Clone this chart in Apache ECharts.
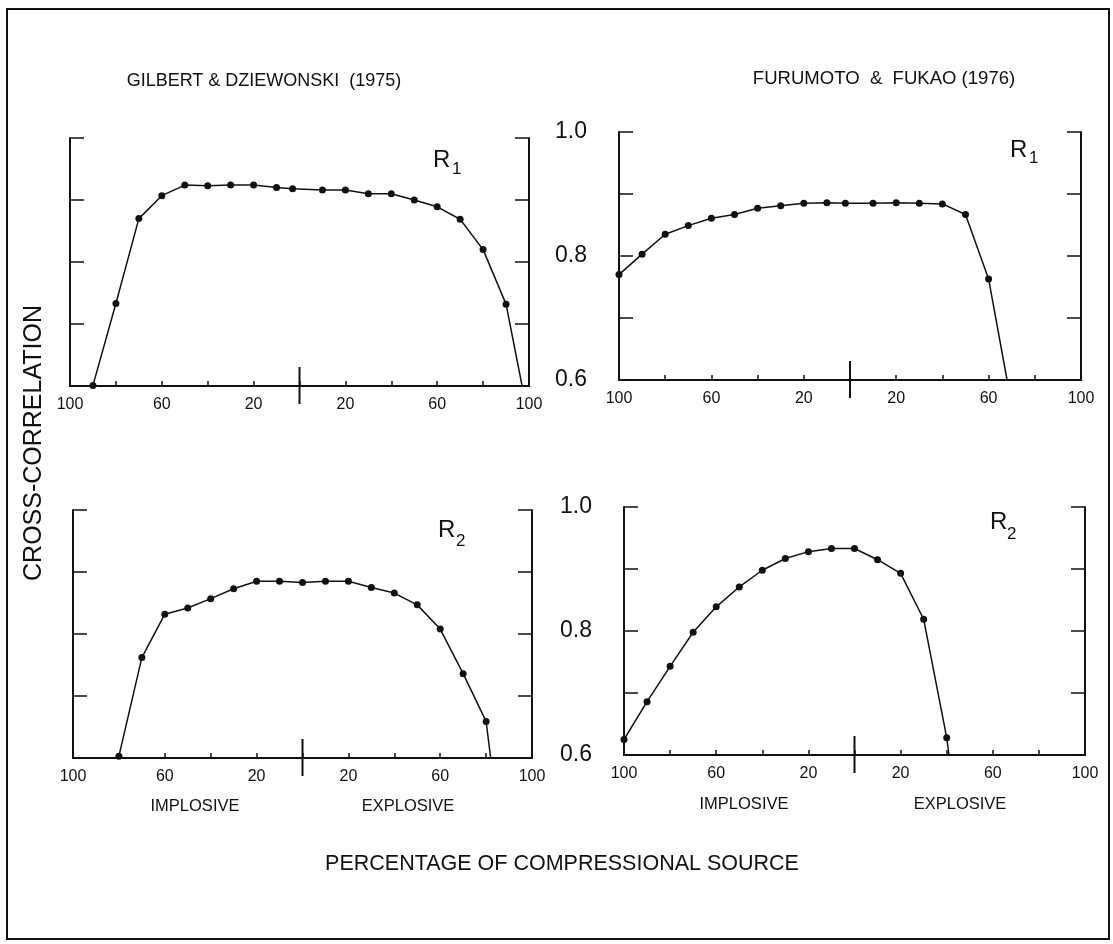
<!DOCTYPE html>
<html>
<head>
<meta charset="utf-8">
<title>Cross-correlation vs percentage of compressional source</title>
<script src="https://cdn.jsdelivr.net/npm/echarts@6.0.0/dist/echarts.min.js"></script>
<style>
  html, body { margin: 0; padding: 0; background: #fff; }
  #chart { width: 1113px; height: 944px; }
</style>
</head>
<body>
<div id="chart"></div>
<script>
// x = percentage of compressional source: implosive side < 0 < explosive side
const xLabelValues = [100, 60, 20]
const yLabelValues = [0.6, 0.8, 1.0]

// Gilbert & Dziewonski (1975), R1
const gdR1X = [-90, -80, -70, -60, -50, -40, -30, -20, -10, -3, 10, 20, 30, 40, 50, 60, 70, 80, 90, 97]
const gdR1Y = [0.601, 0.733, 0.870, 0.907, 0.924, 0.923, 0.924, 0.924, 0.920, 0.918, 0.916, 0.916, 0.910, 0.910, 0.900, 0.889, 0.869, 0.820, 0.732, 0.6]

// Furumoto & Fukao (1976), R1
const ffR1X = [-100, -90, -80, -70, -60, -50, -40, -30, -20, -10, -2, 10, 20, 30, 40, 50, 60, 68]
const ffR1Y = [0.770, 0.803, 0.835, 0.849, 0.861, 0.867, 0.877, 0.881, 0.885, 0.886, 0.885, 0.885, 0.886, 0.885, 0.884, 0.867, 0.763, 0.6]

// Gilbert & Dziewonski (1975), R2
const gdR2X = [-80, -70, -60, -50, -40, -30, -20, -10, 0, 10, 20, 30, 40, 50, 60, 70, 80, 82]
const gdR2Y = [0.603, 0.762, 0.832, 0.842, 0.857, 0.873, 0.885, 0.885, 0.883, 0.885, 0.885, 0.875, 0.866, 0.847, 0.808, 0.736, 0.659, 0.6]

// Furumoto & Fukao (1976), R2
const ffR2X = [-100, -90, -80, -70, -60, -50, -40, -30, -20, -10, 0, 10, 20, 30, 40, 41]
const ffR2Y = [0.625, 0.686, 0.743, 0.798, 0.839, 0.871, 0.898, 0.917, 0.928, 0.933, 0.933, 0.915, 0.893, 0.819, 0.628, 0.6]

const ink = '#111'
const font = 'Liberation Sans'

// grid boxes (pixels) and which data go in them
const panels = [
  { left: 70, top: 138, width: 459, height: 248, xs: gdR1X, ys: gdR1Y, yLabels: false },
  { left: 619, top: 132, width: 462, height: 248, xs: ffR1X, ys: ffR1Y, yLabels: true },
  { left: 73, top: 510, width: 459, height: 248, xs: gdR2X, ys: gdR2Y, yLabels: false },
  { left: 624, top: 507, width: 461, height: 248, xs: ffR2X, ys: ffR2Y, yLabels: true }
]

function xFormatter(v) {
  return xLabelValues.indexOf(Math.abs(v)) > -1 ? String(Math.abs(v)) : ''
}
function yFormatter(v) {
  for (let t of yLabelValues) {
    if (Math.abs(v - t) < 1e-6) return t.toFixed(1)
  }
  return ''
}

let grids = []
let xAxes = []
let yAxes = []
let series = []

panels.forEach(function(p, i) {
  grids.push({ left: p.left, top: p.top, width: p.width, height: p.height })
  xAxes.push({
    type: 'value',
    gridIndex: i,
    min: -100,
    max: 100,
    interval: 20,
    axisLine: { show: true, onZero: false, lineStyle: { color: ink, width: 2 } },
    axisTick: { show: true, inside: true, length: 5, lineStyle: { color: ink, width: 1.5 } },
    axisLabel: { formatter: xFormatter, margin: 11, fontSize: 16, fontFamily: font, color: ink },
    splitLine: { show: false }
  })
  let yBase = {
    type: 'value',
    gridIndex: i,
    min: 0.6,
    max: 1.0,
    interval: 0.1,
    axisLine: { show: true, onZero: false, lineStyle: { color: ink, width: 2 } },
    axisTick: { show: true, inside: true, length: 14, lineStyle: { color: ink, width: 1.5 } },
    splitLine: { show: false }
  }
  yAxes.push(Object.assign({}, yBase, {
    position: 'left',
    axisLabel: {
      show: p.yLabels,
      formatter: yFormatter,
      margin: 32,
      fontSize: 23,
      fontFamily: font,
      color: ink,
      padding: [0, 0, 10, 0]
    }
  }))
  yAxes.push(Object.assign({}, yBase, {
    position: 'right',
    axisLabel: { show: false }
  }))
  let data = p.xs.map(function(x, k) {
    let item = { value: [x, p.ys[k]] }
    // the curve runs down onto the axis; no dot there
    if (k === p.xs.length - 1) item.symbol = 'none'
    return item
  })
  series.push({
    type: 'line',
    xAxisIndex: i,
    yAxisIndex: i * 2,
    data: data,
    symbol: 'circle',
    symbolSize: 7,
    itemStyle: { color: ink },
    lineStyle: { color: ink, width: 1.5 },
    clip: false,
    silent: true
  })
})

let chart = echarts.init(document.getElementById('chart'), null, { renderer: 'canvas' })
chart.setOption({
  animation: false,
  backgroundColor: '#fff',
  grid: grids,
  xAxis: xAxes,
  yAxis: yAxes,
  series: series
})

function txt(text, x, y, size, extra) {
  return Object.assign({
    type: 'text',
    x: x,
    y: y,
    silent: true,
    style: {
      text: text,
      font: size + 'px "' + font + '"',
      fill: ink,
      align: 'center',
      verticalAlign: 'middle'
    }
  }, extra || {})
}

let graphics = [
  {
    type: 'rect',
    silent: true,
    shape: { x: 7, y: 9, width: 1102, height: 930 },
    style: { fill: null, stroke: ink, lineWidth: 2 }
  },
  txt('GILBERT & DZIEWONSKI  (1975)', 264, 81, 18),
  txt('FURUMOTO  &  FUKAO (1976)', 884, 79, 18, { scaleX: 1.03 }),
  txt('CROSS-CORRELATION', 34, 443, 25, { rotation: Math.PI / 2 }),
  txt('IMPLOSIVE', 195, 806, 16.5),
  txt('EXPLOSIVE', 408, 806, 16.5),
  txt('IMPLOSIVE', 744, 804, 16.5),
  txt('EXPLOSIVE', 960, 804, 16.5),
  txt('PERCENTAGE OF COMPRESSIONAL SOURCE', 562, 864, 21.5)
]

// R labels with subscripts
const rLabels = [
  { x: 433, y: 148, sub: '1', sx: 452, sy: 161 },
  { x: 1010, y: 138, sub: '1', sx: 1029, sy: 150 },
  { x: 438, y: 518, sub: '2', sx: 456, sy: 533 },
  { x: 990, y: 510, sub: '2', sx: 1007, sy: 526 }
]
rLabels.forEach(function(r) {
  graphics.push(txt('R', r.x, r.y, 24, { style: { text: 'R', font: '24px "' + font + '"', fill: ink, align: 'left', verticalAlign: 'top' } }))
  graphics.push(txt(r.sub, r.sx, r.sy, 17, { style: { text: r.sub, font: '17px "' + font + '"', fill: ink, align: 'left', verticalAlign: 'top' } }))
})

// long tick at 0 % crossing each x axis
panels.forEach(function(p, i) {
  let pt = chart.convertToPixel({ gridIndex: i }, [0, 0.6])
  graphics.push({
    type: 'line',
    silent: true,
    shape: { x1: pt[0], y1: pt[1] - 19, x2: pt[0], y2: pt[1] + 18 },
    style: { stroke: ink, lineWidth: 2 }
  })
})

chart.setOption({ graphic: graphics })
</script>
</body>
</html>
